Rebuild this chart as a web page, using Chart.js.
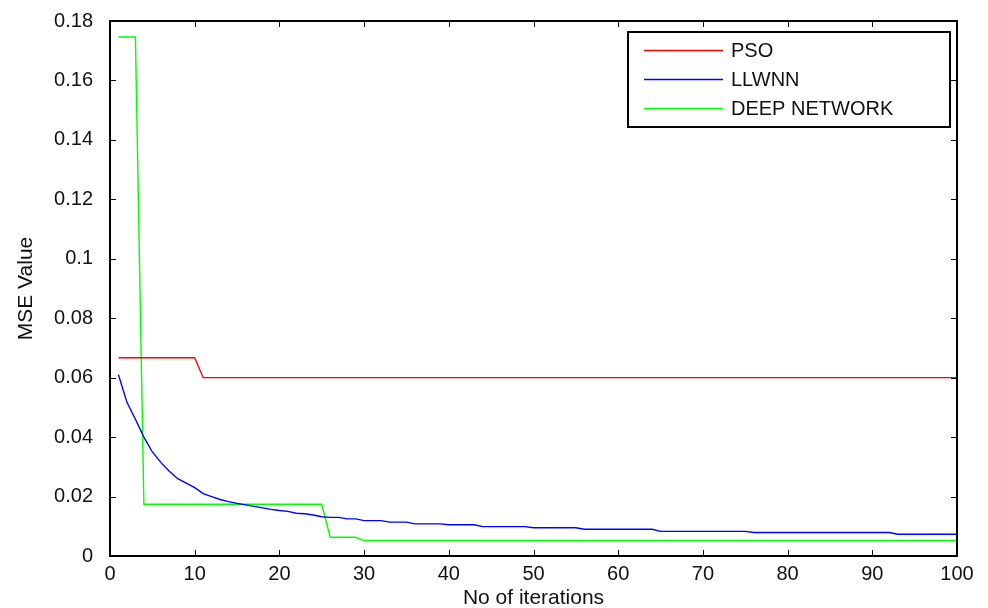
<!DOCTYPE html>
<html>
<head>
<meta charset="utf-8">
<script src="https://cdn.jsdelivr.net/npm/chart.js@4.4.1/dist/chart.umd.min.js"></script>
<style>
html,body{margin:0;padding:0;background:#fff;}
#wrap{width:988px;height:608px;position:relative;}
</style>
</head>
<body>
<div id="wrap"><canvas id="c" width="988" height="608"></canvas></div>
<script>
// Data
const iterations = Array.from({length: 100}, (_, i) => i + 1);

const psoValues = [
  0.0667,0.0667,0.0667,0.0667,0.0667,0.0667,0.0667,0.0667,0.0667,0.0667,
  0.060,0.060,0.060,0.060,0.060,0.060,0.060,0.060,0.060,0.060,
  0.060,0.060,0.060,0.060,0.060,0.060,0.060,0.060,0.060,0.060,
  0.060,0.060,0.060,0.060,0.060,0.060,0.060,0.060,0.060,0.060,
  0.060,0.060,0.060,0.060,0.060,0.060,0.060,0.060,0.060,0.060,
  0.060,0.060,0.060,0.060,0.060,0.060,0.060,0.060,0.060,0.060,
  0.060,0.060,0.060,0.060,0.060,0.060,0.060,0.060,0.060,0.060,
  0.060,0.060,0.060,0.060,0.060,0.060,0.060,0.060,0.060,0.060,
  0.060,0.060,0.060,0.060,0.060,0.060,0.060,0.060,0.060,0.060,
  0.060,0.060,0.060,0.060,0.060,0.060,0.060,0.060,0.060,0.060
];

const llwnnValues = [
  0.061,0.0517,0.046,0.040,0.035,0.0315,0.0285,0.026,0.0245,0.023,
  0.021,0.020,0.019,0.0183,0.0177,0.0172,0.0167,0.0162,0.0157,0.0153,
  0.015,0.0144,0.0142,0.0138,0.0132,0.013,0.013,0.0125,0.0125,0.0119,
  0.0119,0.0119,0.0114,0.0114,0.0114,0.0108,0.0108,0.0108,0.0108,0.0105,
  0.0105,0.0105,0.0105,0.0099,0.0099,0.0099,0.0099,0.0099,0.0099,0.0095,
  0.0095,0.0095,0.0095,0.0095,0.0095,0.009,0.009,0.009,0.009,0.009,
  0.009,0.009,0.009,0.009,0.0083,0.0083,0.0083,0.0083,0.0083,0.0083,
  0.0083,0.0083,0.0083,0.0083,0.0083,0.0079,0.0079,0.0079,0.0079,0.0079,
  0.0079,0.0079,0.0079,0.0079,0.0079,0.0079,0.0079,0.0079,0.0079,0.0079,
  0.0079,0.0079,0.0073,0.0073,0.0073,0.0073,0.0073,0.0073,0.0073,0.0073
];

const deepValues = [
  0.1746,0.1746,0.1746,0.0174,0.0174,0.0174,0.0174,0.0174,0.0174,0.0174,
  0.0174,0.0174,0.0174,0.0174,0.0174,0.0174,0.0174,0.0174,0.0174,0.0174,
  0.0174,0.0174,0.0174,0.0174,0.0174,0.0063,0.0063,0.0063,0.0063,0.0052,
  0.0052,0.0052,0.0052,0.0052,0.0052,0.0052,0.0052,0.0052,0.0052,0.0052,
  0.0052,0.0052,0.0052,0.0052,0.0052,0.0052,0.0052,0.0052,0.0052,0.0052,
  0.0052,0.0052,0.0052,0.0052,0.0052,0.0052,0.0052,0.0052,0.0052,0.0052,
  0.0052,0.0052,0.0052,0.0052,0.0052,0.0052,0.0052,0.0052,0.0052,0.0052,
  0.0052,0.0052,0.0052,0.0052,0.0052,0.0052,0.0052,0.0052,0.0052,0.0052,
  0.0052,0.0052,0.0052,0.0052,0.0052,0.0052,0.0052,0.0052,0.0052,0.0052,
  0.0052,0.0052,0.0052,0.0052,0.0052,0.0052,0.0052,0.0052,0.0052,0.0052
];

const seriesLabels = ["PSO", "LLWNN", "DEEP NETWORK"];
const seriesColors = ["#ff0000", "#0000ff", "#00ff00"];
const xTitle = "No of iterations";
const yTitle = "MSE Value";

const FONT = "'Liberation Sans', Arial, Helvetica, sans-serif";

function toPts(vals){ return vals.map((v,i)=>({x: iterations[i], y: v})); }

const framePlugin = {
  id: 'frame',
  afterDraw(chart){
    const ctx = chart.ctx, a = chart.chartArea;
    const xs = chart.scales.x, ys = chart.scales.y;
    ctx.save();
    ctx.strokeStyle = '#000';
    ctx.lineWidth = 1;
    const L = 6;
    // ticks inward on all four sides
    ctx.beginPath();
    xs.ticks.forEach(t=>{
      const px = Math.round(xs.getPixelForValue(t.value)) + 0.5;
      ctx.moveTo(px, a.bottom); ctx.lineTo(px, a.bottom - L);
      ctx.moveTo(px, a.top); ctx.lineTo(px, a.top + L);
    });
    ys.ticks.forEach(t=>{
      const py = Math.round(ys.getPixelForValue(t.value)) + 0.5;
      ctx.moveTo(a.left, py); ctx.lineTo(a.left + L, py);
      ctx.moveTo(a.right, py); ctx.lineTo(a.right - L, py);
    });
    ctx.stroke();
    // frame
    ctx.lineWidth = 2;
    ctx.strokeRect(a.left, a.top, a.right - a.left, a.bottom - a.top);
    // legend
    const bx = 628, by = 32, bw = 322, bh = 95;
    ctx.fillStyle = '#fff';
    ctx.fillRect(bx, by, bw, bh);
    ctx.lineWidth = 2;
    ctx.strokeRect(bx, by, bw, bh);
    ctx.font = '20px ' + FONT;
    ctx.textBaseline = 'middle';
    ctx.textAlign = 'left';
    chart.data.datasets.forEach((ds, i)=>{
      const yy = by + 18 + i * 29;
      ctx.strokeStyle = ds.borderColor;
      ctx.lineWidth = 1.3;
      ctx.beginPath();
      ctx.moveTo(644, yy + 0.5); ctx.lineTo(723, yy + 0.5);
      ctx.stroke();
      ctx.fillStyle = '#111';
      ctx.fillText(ds.label, 731, yy + 1);
    });
    ctx.restore();
  }
};

new Chart(document.getElementById('c'), {
  type: 'line',
  data: {
    datasets: [
      {label: seriesLabels[0], data: toPts(psoValues), borderColor: seriesColors[0]},
      {label: seriesLabels[1], data: toPts(llwnnValues), borderColor: seriesColors[1]},
      {label: seriesLabels[2], data: toPts(deepValues), borderColor: seriesColors[2]}
    ].map(d => Object.assign(d, {borderWidth: 1.4, pointRadius: 0, fill: false, tension: 0}))
  },
  options: {
    responsive: false,
    animation: false,
    layout: {padding: {top: 21, right: 31, left: 0, bottom: 0}},
    plugins: {legend: {display: false}, tooltip: {enabled: false}},
    scales: {
      x: {
        type: 'linear', min: 0, max: 100,
        ticks: {stepSize: 10, color: '#111', font: {family: FONT, size: 20}, padding: 6, maxRotation: 0},
        grid: {display: false, drawTicks: false},
        border: {display: false},
        title: {display: true, text: xTitle, color: '#111', font: {family: FONT, size: 21}, padding: {top: 0, bottom: -3}},
        afterFit(s){ s.height = 52; s.paddingLeft = 0; s.paddingRight = 0; }
      },
      y: {
        type: 'linear', min: 0, max: 0.18,
        ticks: {stepSize: 0.02, color: '#111', font: {family: FONT, size: 20}, padding: 17,
          callback: v => String(Number(v.toFixed(2)))},
        grid: {display: false, drawTicks: false},
        border: {display: false},
        title: {display: true, text: yTitle, color: '#111', font: {family: FONT, size: 21}, padding: {top: 14, bottom: 0}},
        afterFit(s){ s.width = 110; s.paddingTop = 0; s.paddingBottom = 0; }
      }
    }
  },
  plugins: [framePlugin]
});
</script>
</body>
</html>
